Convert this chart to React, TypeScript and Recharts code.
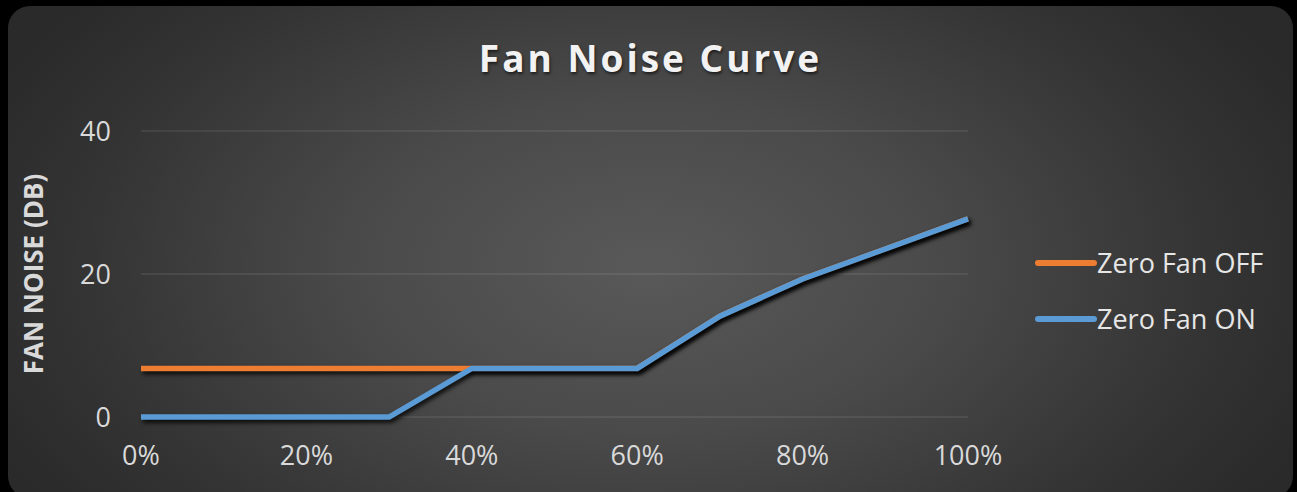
import React from 'react';
import { LineChart, Line, XAxis, YAxis, CartesianGrid } from 'recharts';

// fan duty (%) and measured noise (dB)
const dutyPct = [0, 10, 20, 30, 40, 50, 60, 70, 80, 90, 100];
const zeroFanOff = [6.8, 6.8, 6.8, 6.8, 6.8, 6.8, 6.8, 14.1, 19.3, 23.5, 27.7];
const zeroFanOn = [0, 0, 0, 0, 6.8, 6.8, 6.8, 14.1, 19.3, 23.5, 27.7];
const xTicks = [0, 20, 40, 60, 80, 100];
const yTicks = [0, 20, 40];

const SERIES = [
  { key: 'off', name: 'Zero Fan OFF', color: '#ED7D31' },
  { key: 'on', name: 'Zero Fan ON', color: '#5B9BD5' },
];

const data = dutyPct.map((d, i) => ({ duty: d, off: zeroFanOff[i], on: zeroFanOn[i] }));

const FONT = '"Open Sans", "Noto Sans", sans-serif';

const YLabel = ({ viewBox }: any) => {
  const cx = viewBox.x - 48;
  const cy = viewBox.y + viewBox.height / 2;
  return (
    <text
      x={cx}
      y={cy}
      transform={`rotate(-90 ${cx} ${cy})`}
      textAnchor="middle"
      dominantBaseline="central"
      fill="#d9d9d9"
      fontSize={26}
      fontWeight={700}
      fontFamily={FONT}
    >
      FAN NOISE (DB)
    </text>
  );
};

export default function App() {
  return (
    <div style={{ position: 'absolute', left: 0, top: 0, width: 1297, height: 492, background: '#000', overflow: 'hidden', fontFamily: FONT }}>
      <style>{`.recharts-line-curve { filter: drop-shadow(2px 3px 2px rgba(0,0,0,0.85)); }`}</style>
      <div
        style={{
          position: 'absolute',
          left: 8,
          top: 6,
          width: 1285,
          height: 492,
          borderRadius: 22,
          background: 'radial-gradient(ellipse 720px 420px at 640px 260px, #595959 0%, #4a4a4a 40%, #333333 80%, #2a2a2a 100%)',
        }}
      />
      <div
        style={{
          position: 'absolute',
          left: 0,
          width: 1297,
          top: 35,
          textAlign: 'center',
          paddingLeft: 2,
          color: '#f2f2f2',
          fontSize: 37,
          fontWeight: 700,
          letterSpacing: 3,
          lineHeight: '46px',
          textShadow: '1px 2px 3px rgba(0,0,0,0.6)',
        }}
      >
        Fan Noise Curve
      </div>
      <div style={{ position: 'absolute', left: 0, top: 0 }}>
        <LineChart width={1297} height={492} data={data} margin={{ top: 131, right: 329, bottom: 45, left: 81 }}>
          <CartesianGrid vertical={false} stroke="rgba(255,255,255,0.1)" strokeWidth={1.3} />
          <XAxis
            dataKey="duty"
            type="number"
            domain={[0, 100]}
            ticks={xTicks}
            tickFormatter={(v) => `${v}%`}
            axisLine={false}
            tickLine={false}
            tickMargin={23}
            height={30}
            tick={{ fill: '#d9d9d9', fontSize: 27, fontFamily: FONT }}
            interval={0}
          />
          <YAxis
            width={60}
            domain={[0, 40]}
            ticks={yTicks}
            axisLine={false}
            tickLine={false}
            tickMargin={24}
            tick={{ fill: '#d9d9d9', fontSize: 27, fontFamily: FONT }}
            label={<YLabel />}
          />
          {SERIES.map((s) => (
            <Line
              key={s.key}
              dataKey={s.key}
              name={s.name}
              stroke={s.color}
              strokeWidth={5.5}
              dot={false}
              activeDot={false}
              type="linear"
              strokeLinejoin="miter"
              isAnimationActive={false}
            />
          ))}
        </LineChart>
      </div>
      {SERIES.map((s, i) => (
        <div key={s.key} style={{ position: 'absolute', left: 1034, top: 244 + i * 56, height: 38, display: 'flex', alignItems: 'center' }}>
          <svg width={64} height={12}>
            <line x1={4} y1={6} x2={60} y2={6} stroke={s.color} strokeWidth={6} strokeLinecap="round" />
          </svg>
          <span style={{ color: '#e6e6e6', fontSize: 27, marginLeft: -1, lineHeight: '38px' }}>{s.name}</span>
        </div>
      ))}
    </div>
  );
}
